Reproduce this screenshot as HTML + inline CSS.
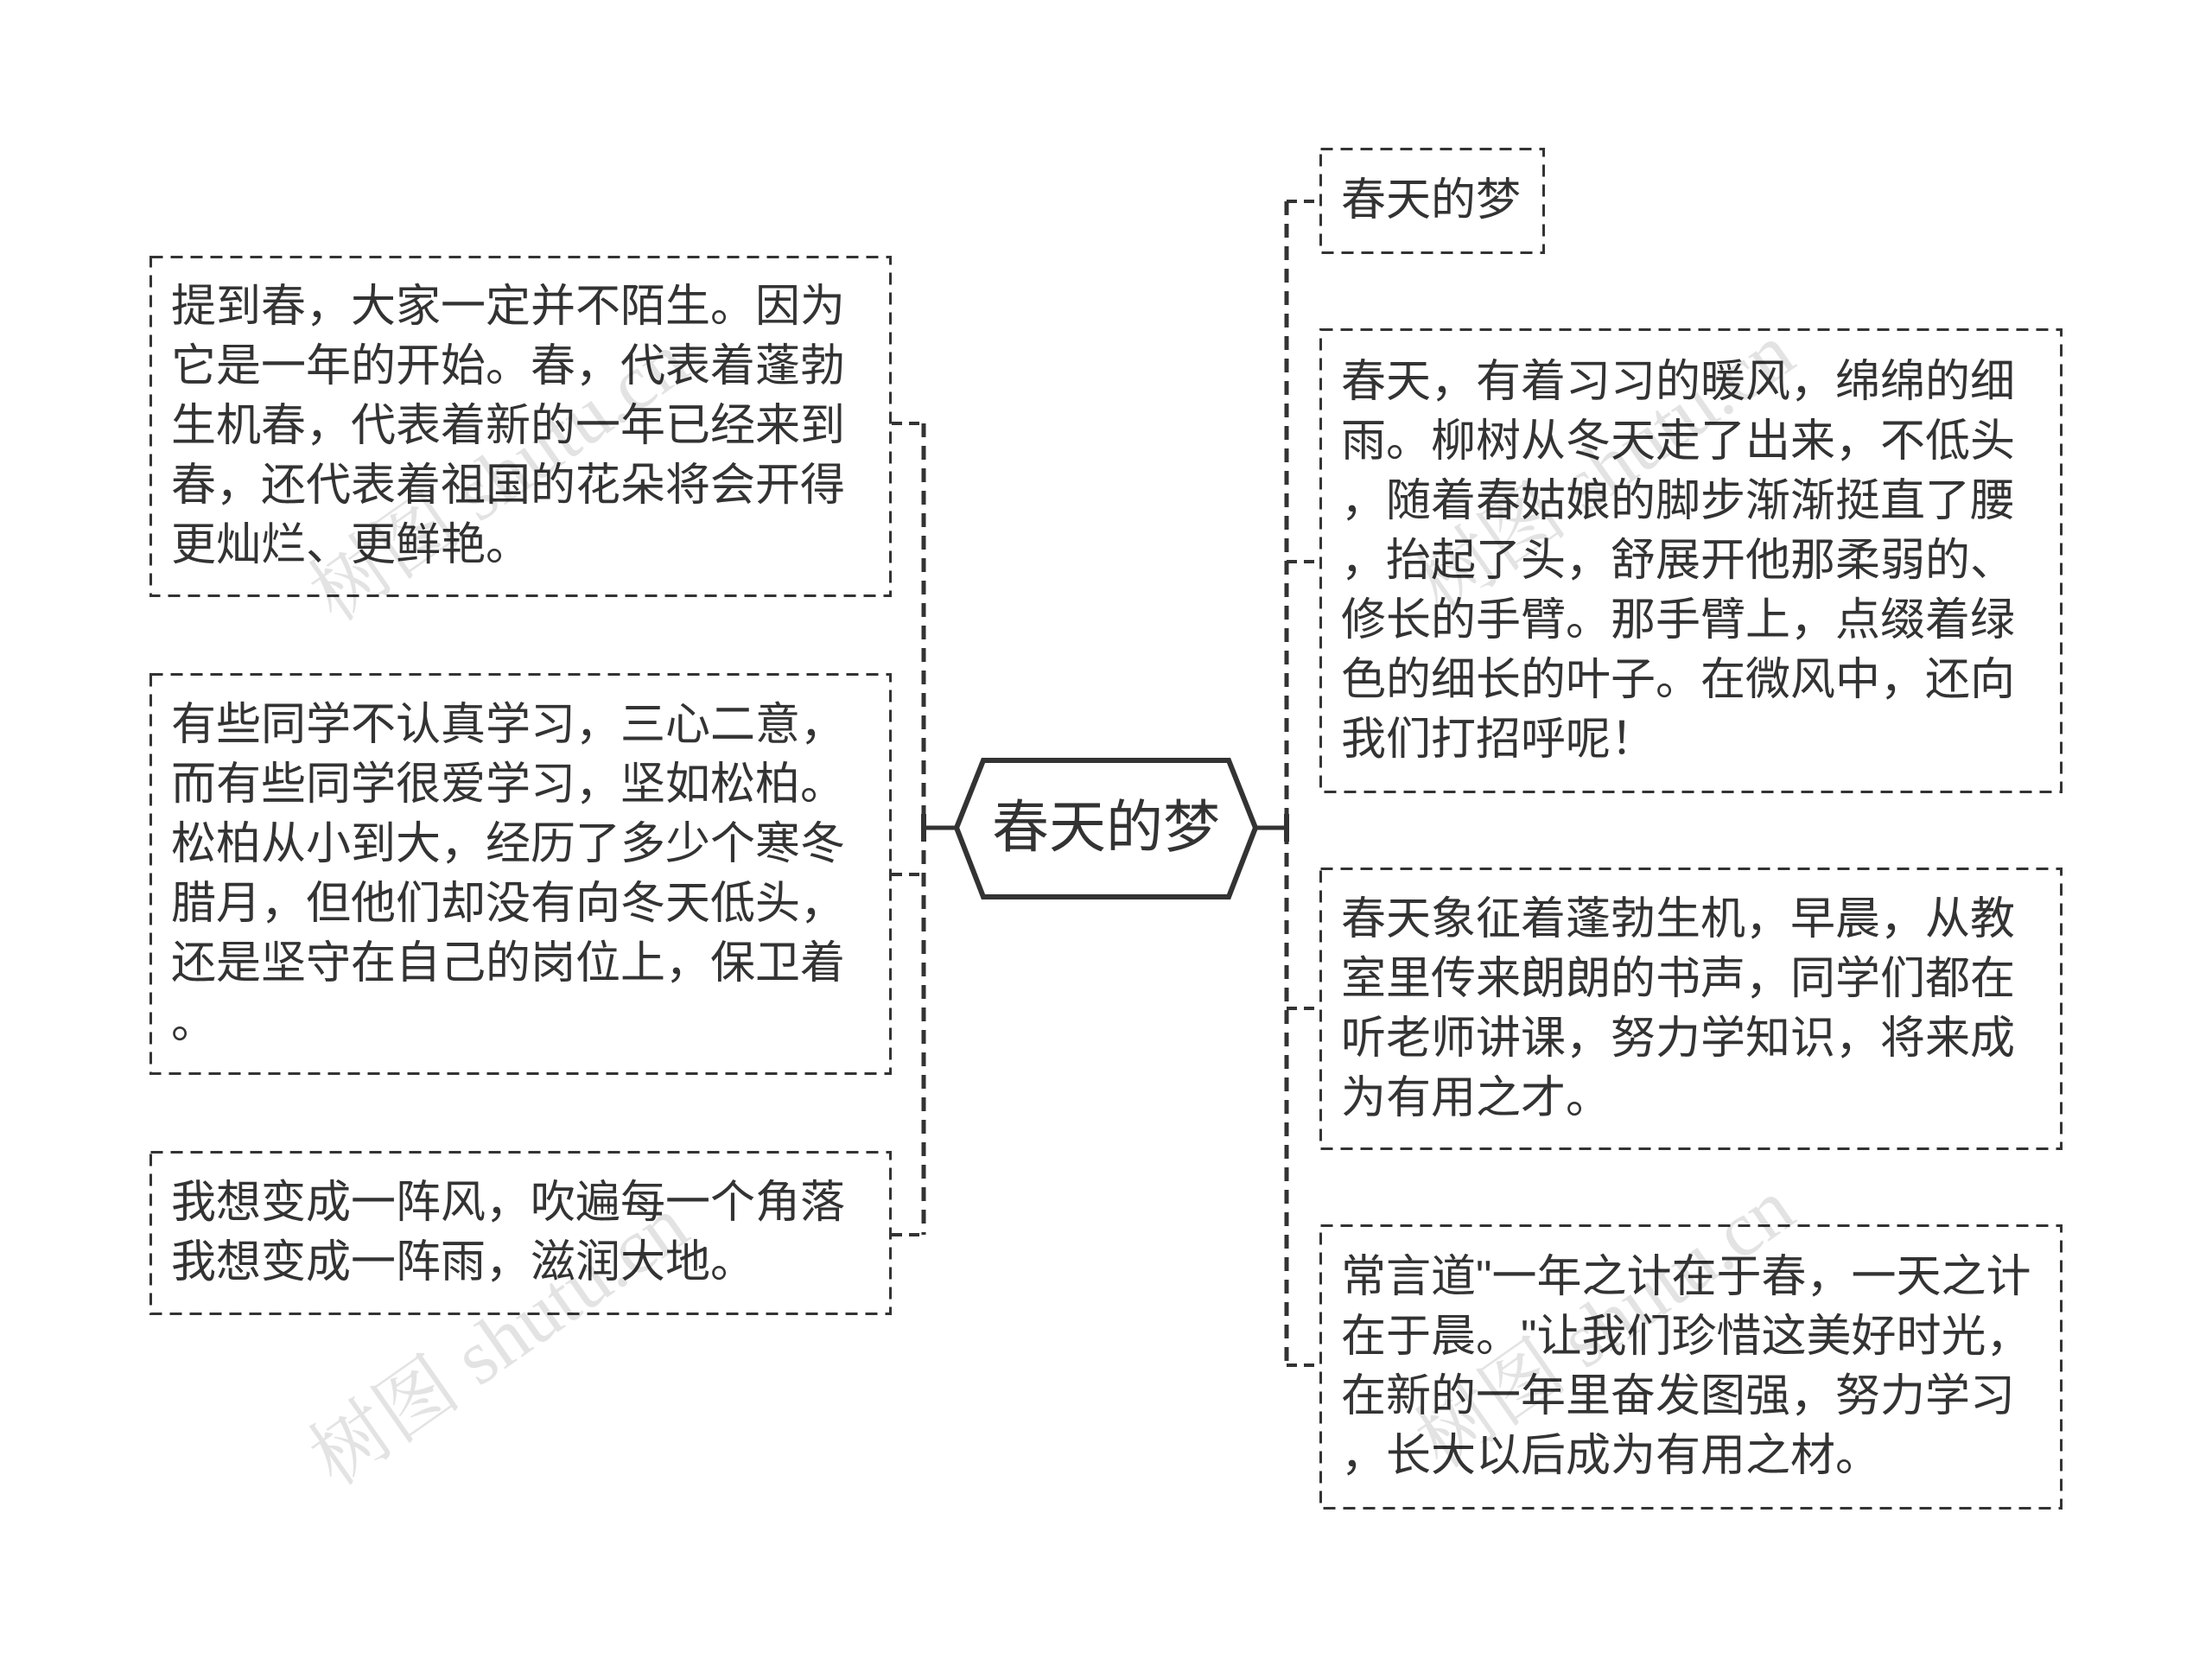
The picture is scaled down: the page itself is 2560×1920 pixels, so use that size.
<!DOCTYPE html>
<html><head><meta charset="utf-8"><style>
html,body{margin:0;padding:0;background:#fff}
body{width:2560px;height:1920px;position:relative;overflow:hidden;font-family:"Liberation Sans","Noto Sans CJK SC",sans-serif;color:#333}
.b{position:absolute;box-sizing:border-box;display:flex;align-items:center;padding-left:25px;font-size:52px;line-height:69px;white-space:nowrap}
.wm{position:absolute;font-family:"Liberation Serif","Noto Serif CJK SC",serif;font-size:90px;color:rgba(0,0,0,0.11);transform:rotate(-35deg);white-space:nowrap}
</style></head><body>
<svg width="2560" height="1920" style="position:absolute;left:0;top:0">
<g stroke="#333" fill="none">
<line x1="1069" y1="490" x2="1069" y2="1429" stroke-width="5" stroke-dasharray="16 10"/>
<line x1="1489" y1="233" x2="1489" y2="1580" stroke-width="5" stroke-dasharray="16 10"/>
<g stroke-width="4" stroke-dasharray="12 8">
<line x1="1032" y1="490" x2="1069" y2="490"/>
<line x1="1032" y1="1012" x2="1069" y2="1012"/>
<line x1="1032" y1="1429" x2="1069" y2="1429"/>
<line x1="1489" y1="233" x2="1527" y2="233"/>
<line x1="1489" y1="650" x2="1527" y2="650"/>
<line x1="1489" y1="1167" x2="1527" y2="1167"/>
<line x1="1489" y1="1580" x2="1527" y2="1580"/>
</g>
<g stroke-width="3" stroke-dasharray="14 9">
<rect x="174.5" y="297.5" width="856" height="392"/>
<rect x="174.5" y="780.5" width="856" height="462"/>
<rect x="174.5" y="1333.5" width="856" height="187"/>
<rect x="1528.5" y="172.5" width="258" height="120"/>
<rect x="1528.5" y="381.5" width="857" height="535"/>
<rect x="1528.5" y="1005.5" width="857" height="324"/>
<rect x="1528.5" y="1418.5" width="857" height="327"/>
</g>
<line x1="1069" y1="958" x2="1107" y2="958" stroke-width="5"/>
<line x1="1453" y1="958" x2="1489" y2="958" stroke-width="5"/>
<line x1="1069" y1="942" x2="1069" y2="974" stroke-width="6"/>
<line x1="1489" y1="942" x2="1489" y2="974" stroke-width="6"/>
<polygon points="1107,958 1138,880 1422,880 1453,958 1422,1038 1138,1038" stroke-width="6" fill="#fff"/>
</g>
<text x="1280" y="980" text-anchor="middle" font-size="66" fill="#333" font-family="Liberation Sans, Noto Sans CJK SC, sans-serif">春天的梦</text>
</svg>
<div class="b" style="left:173px;top:296px;width:859px;height:395px">提到春，大家一定并不陌生。因为<br>它是一年的开始。春，代表着蓬勃<br>生机春，代表着新的一年已经来到<br>春，还代表着祖国的花朵将会开得<br>更灿烂、更鲜艳。</div>
<div class="b" style="left:173px;top:779px;width:859px;height:465px">有些同学不认真学习，三心二意，<br>而有些同学很爱学习，坚如松柏。<br>松柏从小到大，经历了多少个寒冬<br>腊月，但他们却没有向冬天低头，<br>还是坚守在自己的岗位上，保卫着<br>。</div>
<div class="b" style="left:173px;top:1332px;width:859px;height:190px">我想变成一阵风，吹遍每一个角落<br>我想变成一阵雨，滋润大地。</div>
<div class="b" style="left:1527px;top:171px;width:261px;height:123px">春天的梦</div>
<div class="b" style="left:1527px;top:380px;width:860px;height:538px">春天，有着习习的暖风，绵绵的细<br>雨。柳树从冬天走了出来，不低头<br>，随着春姑娘的脚步渐渐挺直了腰<br>，抬起了头，舒展开他那柔弱的、<br>修长的手臂。那手臂上，点缀着绿<br>色的细长的叶子。在微风中，还向<br>我们打招呼呢！</div>
<div class="b" style="left:1527px;top:1004px;width:860px;height:327px">春天象征着蓬勃生机，早晨，从教<br>室里传来朗朗的书声，同学们都在<br>听老师讲课，努力学知识，将来成<br>为有用之才。</div>
<div class="b" style="left:1527px;top:1417px;width:860px;height:330px">常言道"一年之计在于春，一天之计<br>在于晨。"让我们珍惜这美好时光，<br>在新的一年里奋发图强，努力学习<br>，长大以后成为有用之材。</div>
<div class="wm" style="left:320px;top:480px">树图 shutu.cn</div>
<div class="wm" style="left:320px;top:1480px">树图 shutu.cn</div>
<div class="wm" style="left:1600px;top:470px">树图 shutu.cn</div>
<div class="wm" style="left:1600px;top:1460px">树图 shutu.cn</div>
</body></html>
